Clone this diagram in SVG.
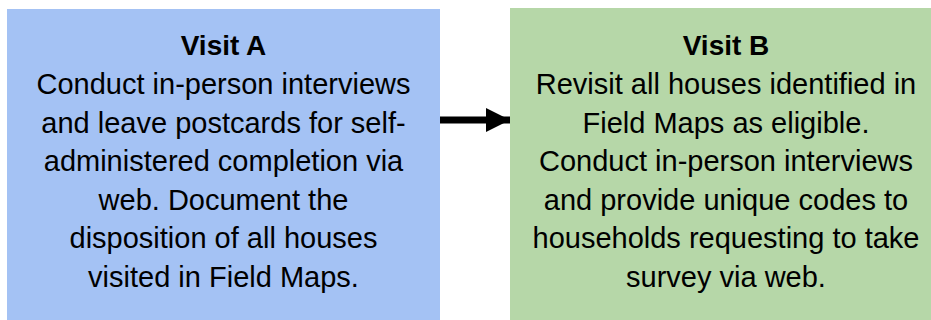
<svg xmlns="http://www.w3.org/2000/svg" width="931" height="320" viewBox="0 0 931 320">
  <style>
    text { font-family: "Liberation Sans", Arial, sans-serif; font-size: 29px; fill: #000; text-anchor: middle; }
    .title { font-weight: bold; font-size: 28px; }
  </style>
  <defs>
    <marker id="arrowhead" markerUnits="userSpaceOnUse" markerWidth="25" markerHeight="25" refX="24" refY="12.5" orient="auto">
      <polygon points="0,0.5 24,12.5 0,24.5" fill="#000"/>
    </marker>
  </defs>
  <rect width="931" height="320" fill="#ffffff"/>
  <g id="visit-a">
    <rect x="7" y="9" width="433" height="311" fill="#A4C2F4"/>
    <text class="title" x="223.5" y="55">Visit A</text>
    <text x="223.5" y="94">Conduct in-person interviews</text>
    <text x="223.5" y="132.5">and leave postcards for self-</text>
    <text x="223.5" y="171">administered completion via</text>
    <text x="223.5" y="209.5">web. Document the</text>
    <text x="223.5" y="248">disposition of all houses</text>
    <text x="223.5" y="287">visited in Field Maps.</text>
  </g>
  <g id="visit-b">
    <rect x="510" y="8" width="421" height="312" fill="#B6D7A8"/>
    <text class="title" x="726" y="55">Visit B</text>
    <text x="726" y="94">Revisit all houses identified in</text>
    <text x="726" y="132.5">Field Maps as eligible.</text>
    <text x="726" y="171">Conduct in-person interviews</text>
    <text x="726" y="209.5">and provide unique codes to</text>
    <text x="726" y="248">households requesting to take</text>
    <text x="726" y="287">survey via web.</text>
  </g>
  <g id="connectors">
    <line x1="440" y1="120" x2="510" y2="120" stroke="#000" stroke-width="7" marker-end="url(#arrowhead)"/>
  </g>
</svg>
